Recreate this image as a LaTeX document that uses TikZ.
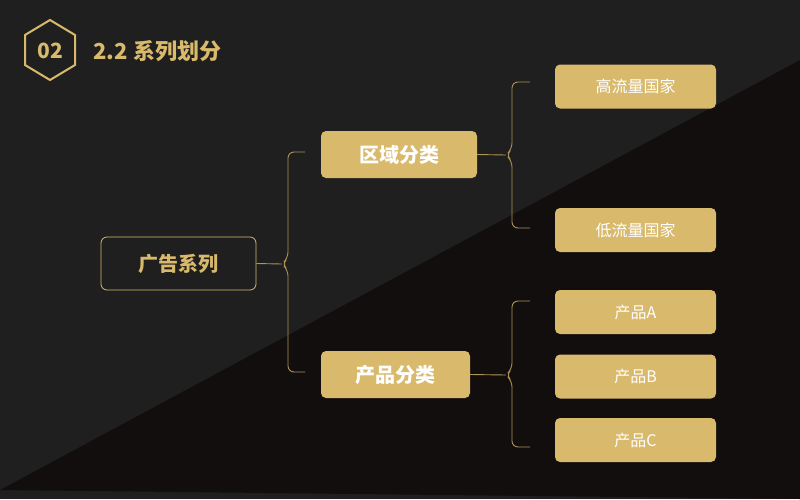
\documentclass[tikz,border=0pt]{standalone}
\usepackage{fontspec}
\setmainfont{Noto Sans CJK SC}
\begin{document}
\begin{tikzpicture}[x=1pt,y=-1pt,
  gold/.style={fill=goldc,draw=none,rounded corners=5pt},
  brace/.style={draw=goldc!80!black,line width=0.9pt,rounded corners=6pt},
  conn/.style={draw=goldc!80!black,line width=0.9pt}]
\definecolor{goldc}{HTML}{D9B96B}
\definecolor{bgA}{HTML}{1F1F1F}
\definecolor{bgB}{HTML}{120E0E}
\useasboundingbox (0,0) rectangle (800,499);
\fill[bgA] (0,0) rectangle (800,499);
\fill[bgB] (0,490) -- (800,60) -- (800,499) -- cycle;
% header
\draw[goldc,line width=2pt] (50,20) -- (75,35) -- (75,65) -- (50,80) -- (25,65) -- (25,35) -- cycle;
\node[text=goldc,font=\bfseries\fontsize{21}{21}\selectfont] (num) at (50,51) {02};
\node[text=goldc,font=\bfseries\fontsize{22}{22}\selectfont,anchor=west] (title) at (90,51) {2.2 系列划分};
% nodes
\node[draw=goldc,line width=0.8pt,fill=bgA,rounded corners=6pt,minimum width=155pt,minimum height=53pt,text=goldc,font=\bfseries\fontsize{20}{20}\selectfont] (g) at (178.5,263.5) {广告系列};
\node[gold,minimum width=156pt,minimum height=47pt,text=white,font=\bfseries\fontsize{20}{20}\selectfont] (r) at (399,154.5) {区域分类};
\node[gold,minimum width=149pt,minimum height=47pt,text=white,font=\bfseries\fontsize{20}{20}\selectfont] (p) at (395.5,374.5) {产品分类};
\tikzset{small/.style={gold,minimum width=161pt,minimum height=44pt,text=white,font=\fontsize{16}{16}\selectfont}}
\node[small] (h) at (635.5,86.5) {高流量国家};
\node[small] (l) at (635.5,230) {低流量国家};
\node[small] (a) at (635.5,312) {产品A};
\node[small] (b) at (635.5,376.5) {产品B};
\node[small] (c) at (635.5,440) {产品C};
% braces
\coordinate (t1) at (282,264);
\coordinate (t2) at (506,155);
\coordinate (t3) at (506,375);
\draw[brace] (305,152) -- (288,152) -- (288,258) -- (t1) -- (288,270) -- (288,372) -- (305,372);
\draw[brace] (530,82) -- (512,82) -- (512,149) -- (t2) -- (512,161) -- (512,228) -- (530,228);
\draw[brace] (530,301) -- (512,301) -- (512,369) -- (t3) -- (512,381) -- (512,447) -- (530,447);
\draw[conn] (g.east) -- (t1);
\draw[conn] (r.east) -- (t2);
\draw[conn] (p.east) -- (t3);
\end{tikzpicture}
\end{document}
